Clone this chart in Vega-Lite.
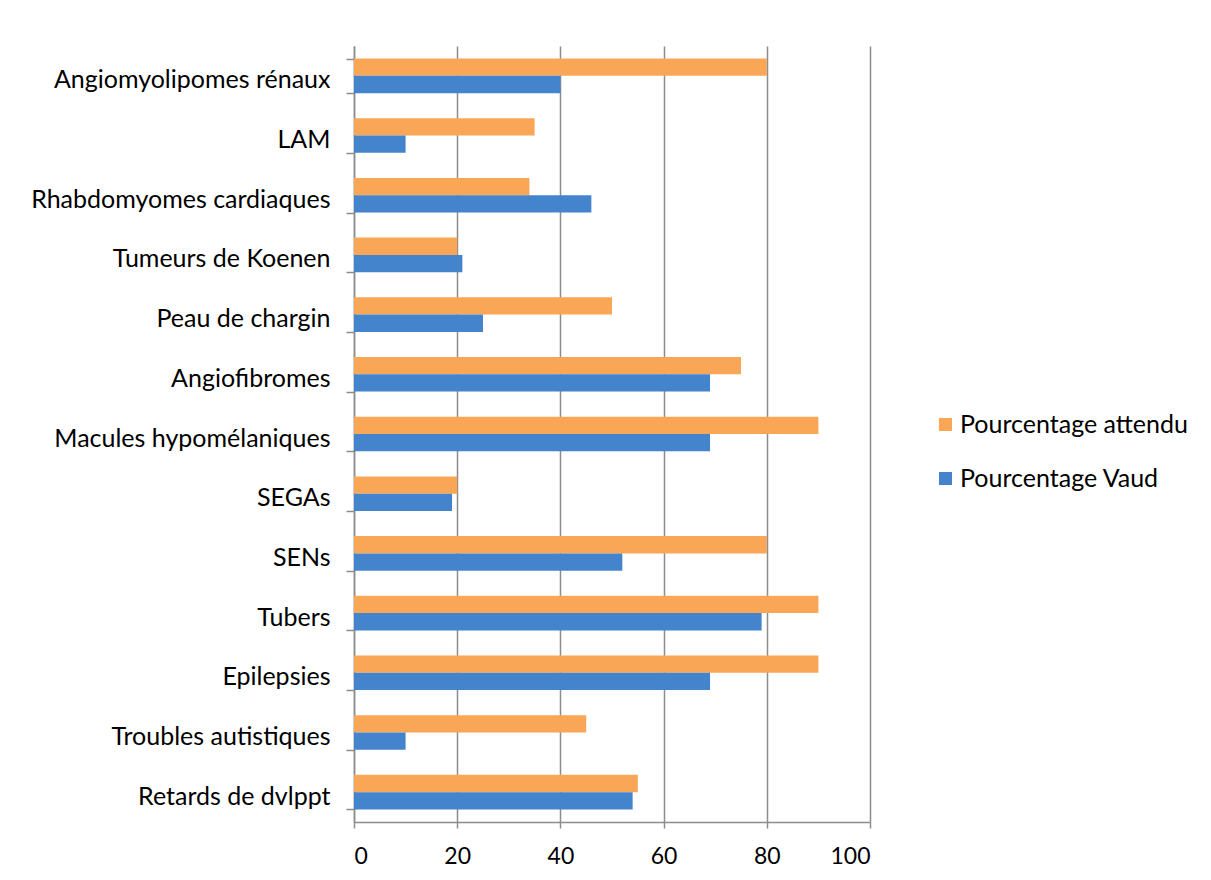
{
  "$schema": "https://vega.github.io/schema/vega-lite/v6.json",
  "width": 516,
  "height": 776,
  "autosize": {"type": "none"},
  "padding": {"left": 354, "top": 46, "right": 341, "bottom": 58},
  "background": "white",
  "config": {
    "font": "Lato",
    "view": {"stroke": null},
    "axis": {"labelFont": "Lato", "labelColor": "#000000", "labelFontSize": 25, "labelLimit": 0, "domainColor": "#8c8c8c", "tickColor": "#8c8c8c", "gridColor": "#8c8c8c", "domainWidth": 1.5, "tickWidth": 1.5, "gridWidth": 1.5}
  },
  "data": {
    "values": [
      {"cat": "Angiomyolipomes rénaux", "serie": "Pourcentage attendu", "value": 80},
      {"cat": "Angiomyolipomes rénaux", "serie": "Pourcentage Vaud", "value": 40},
      {"cat": "LAM", "serie": "Pourcentage attendu", "value": 35},
      {"cat": "LAM", "serie": "Pourcentage Vaud", "value": 10},
      {"cat": "Rhabdomyomes cardiaques", "serie": "Pourcentage attendu", "value": 34},
      {"cat": "Rhabdomyomes cardiaques", "serie": "Pourcentage Vaud", "value": 46},
      {"cat": "Tumeurs de Koenen", "serie": "Pourcentage attendu", "value": 20},
      {"cat": "Tumeurs de Koenen", "serie": "Pourcentage Vaud", "value": 21},
      {"cat": "Peau de chargin", "serie": "Pourcentage attendu", "value": 50},
      {"cat": "Peau de chargin", "serie": "Pourcentage Vaud", "value": 25},
      {"cat": "Angiofibromes", "serie": "Pourcentage attendu", "value": 75},
      {"cat": "Angiofibromes", "serie": "Pourcentage Vaud", "value": 69},
      {"cat": "Macules hypomélaniques", "serie": "Pourcentage attendu", "value": 90},
      {"cat": "Macules hypomélaniques", "serie": "Pourcentage Vaud", "value": 69},
      {"cat": "SEGAs", "serie": "Pourcentage attendu", "value": 20},
      {"cat": "SEGAs", "serie": "Pourcentage Vaud", "value": 19},
      {"cat": "SENs", "serie": "Pourcentage attendu", "value": 80},
      {"cat": "SENs", "serie": "Pourcentage Vaud", "value": 52},
      {"cat": "Tubers", "serie": "Pourcentage attendu", "value": 90},
      {"cat": "Tubers", "serie": "Pourcentage Vaud", "value": 79},
      {"cat": "Epilepsies", "serie": "Pourcentage attendu", "value": 90},
      {"cat": "Epilepsies", "serie": "Pourcentage Vaud", "value": 69},
      {"cat": "Troubles autistiques", "serie": "Pourcentage attendu", "value": 45},
      {"cat": "Troubles autistiques", "serie": "Pourcentage Vaud", "value": 10},
      {"cat": "Retards de dvlppt", "serie": "Pourcentage attendu", "value": 55},
      {"cat": "Retards de dvlppt", "serie": "Pourcentage Vaud", "value": 54}
    ]
  },
  "mark": {"type": "bar"},
  "encoding": {
    "y": {
      "field": "cat",
      "type": "nominal",
      "sort": ["Angiomyolipomes rénaux", "LAM", "Rhabdomyomes cardiaques", "Tumeurs de Koenen", "Peau de chargin", "Angiofibromes", "Macules hypomélaniques", "SEGAs", "SENs", "Tubers", "Epilepsies", "Troubles autistiques", "Retards de dvlppt"],
      "scale": {"paddingInner": 0.42, "paddingOuter": 0.21},
      "axis": {"title": null, "tickBand": "extent", "tickSize": 8, "labelPadding": 16, "labelOffset": 4, "grid": false}
    },
    "yOffset": {
      "field": "serie",
      "type": "nominal",
      "sort": ["Pourcentage attendu", "Pourcentage Vaud"]
    },
    "x": {
      "field": "value",
      "type": "quantitative",
      "scale": {"domain": [0, 100], "nice": false},
      "axis": {"title": null, "values": [0, 20, 40, 60, 80, 100], "tickSize": 6, "labelPadding": 17, "labelFontSize": 23, "grid": true}
    },
    "color": {
      "field": "serie",
      "type": "nominal",
      "sort": ["Pourcentage attendu", "Pourcentage Vaud"],
      "scale": {"domain": ["Pourcentage attendu", "Pourcentage Vaud"], "range": ["#F9A656", "#4384CC"]},
      "legend": {"title": null, "orient": "none", "legendX": 579, "legendY": 366, "symbolType": "square", "symbolSize": 169, "symbolStrokeWidth": 0, "labelFontSize": 25, "labelLimit": 0, "labelFont": "Lato", "labelColor": "#000000", "rowPadding": 28, "labelOffset": 2}
    }
  }
}
